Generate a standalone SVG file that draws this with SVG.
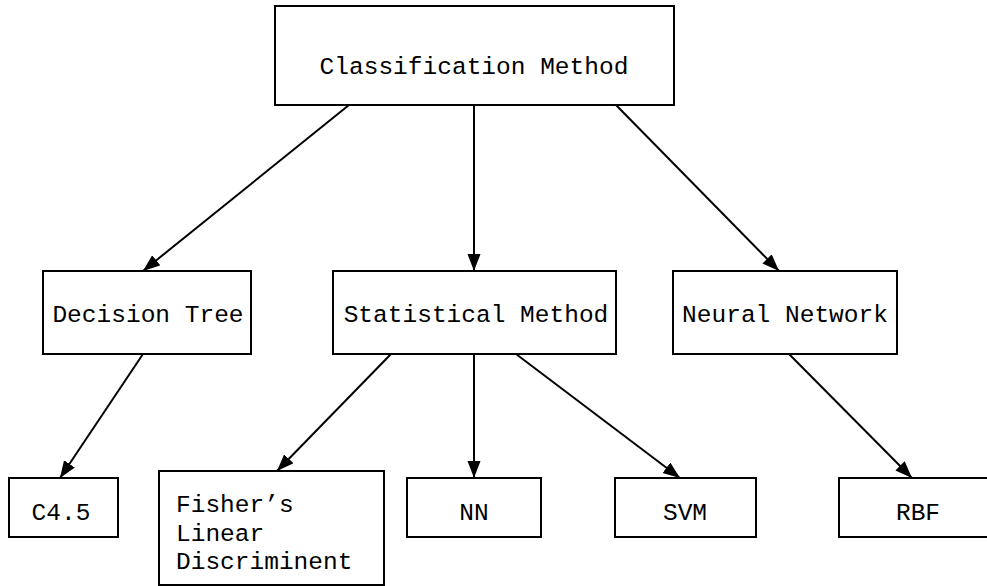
<svg xmlns="http://www.w3.org/2000/svg" width="987" height="586" viewBox="0 0 987 586">
<defs>
<style>
.box{fill:#fff;stroke:#000;stroke-width:2}
.lbl{font-family:"Liberation Mono","Courier New",monospace;font-size:24.5px;fill:#000}
.c{text-anchor:middle}
.edge{stroke:#000;stroke-width:2;fill:none;marker-end:url(#ah)}
</style>
<marker id="ah" markerUnits="userSpaceOnUse" markerWidth="18" markerHeight="14" refX="17" refY="6.5" orient="auto">
<path d="M0,0 L17,6.5 L0,13 z" fill="#000"/>
</marker>
</defs>
<rect width="987" height="586" fill="#fff"/>
<g id="connectors">
<line class="edge" x1="349" y1="105" x2="143" y2="271"/>
<line class="edge" x1="474" y1="105" x2="474" y2="271"/>
<line class="edge" x1="616" y1="105" x2="779" y2="271"/>
<line class="edge" x1="143" y1="354" x2="60" y2="478"/>
<line class="edge" x1="391" y1="354" x2="277" y2="471"/>
<line class="edge" x1="474" y1="354" x2="474" y2="478"/>
<line class="edge" x1="516" y1="354" x2="680" y2="478"/>
<line class="edge" x1="789" y1="354" x2="912" y2="478"/>
</g>
<g id="classification">
<rect class="box" x="275" y="6" width="399" height="99"/>
<text class="lbl c" x="474" y="74">Classification Method</text>
</g>
<g id="decision-tree">
<rect class="box" x="43" y="271" width="208" height="83"/>
<text class="lbl c" x="148" y="322">Decision Tree</text>
</g>
<g id="statistical">
<rect class="box" x="333" y="271" width="283" height="83"/>
<text class="lbl c" x="476" y="322">Statistical Method</text>
</g>
<g id="neural">
<rect class="box" x="673" y="271" width="224" height="83"/>
<text class="lbl c" x="785" y="322">Neural Network</text>
</g>
<g id="c45">
<rect class="box" x="9" y="478" width="109" height="59"/>
<text class="lbl c" x="61" y="520">C4.5</text>
</g>
<g id="fisher">
<rect class="box" x="159" y="471" width="225" height="114"/>
<text class="lbl" x="176" y="512">Fisher’s</text>
<text class="lbl" x="176" y="541">Linear</text>
<text class="lbl" x="176" y="569">Discriminent</text>
</g>
<g id="nn">
<rect class="box" x="407" y="478" width="134" height="59"/>
<text class="lbl c" x="474" y="520">NN</text>
</g>
<g id="svm">
<rect class="box" x="615" y="478" width="141" height="59"/>
<text class="lbl c" x="685" y="520">SVM</text>
</g>
<g id="rbf">
<rect class="box" x="839" y="478" width="160" height="59"/>
<text class="lbl c" x="918" y="520">RBF</text>
</g>
</svg>
